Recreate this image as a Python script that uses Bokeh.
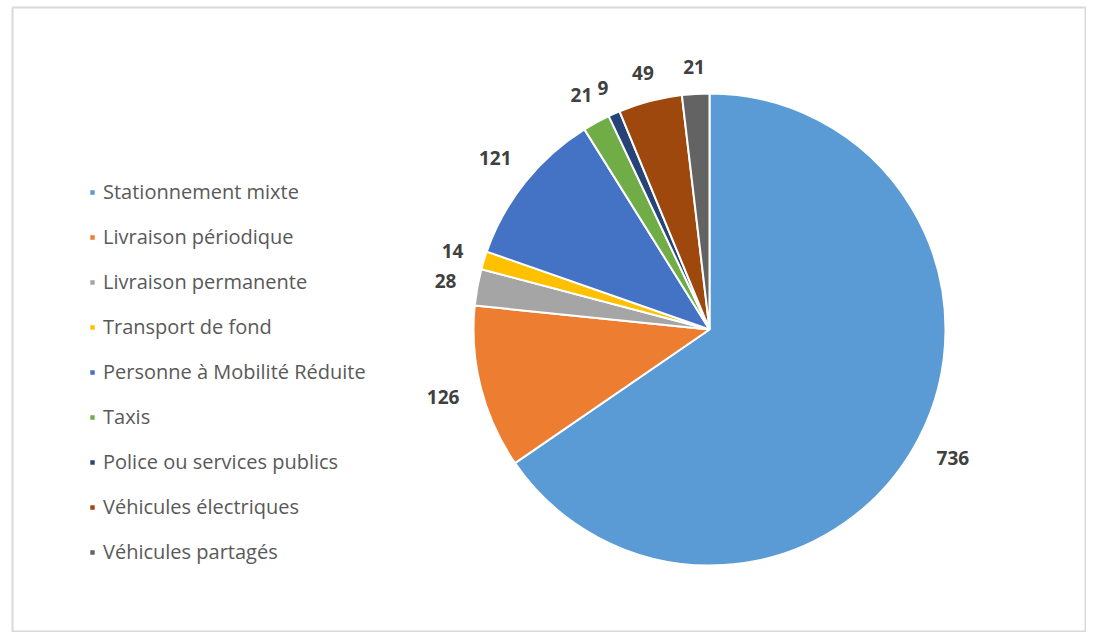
import math
from bokeh.plotting import figure
from bokeh.models import Range1d, Legend, LegendItem
from bokeh.core.properties import value
from bokeh.embed import file_html
from bokeh.resources import INLINE

categories = [
    "Stationnement mixte",
    "Livraison périodique",
    "Livraison permanente",
    "Transport de fond",
    "Personne à Mobilité Réduite",
    "Taxis",
    "Police ou services publics",
    "Véhicules électriques",
    "Véhicules partagés",
]
values = [736, 126, 28, 14, 121, 21, 9, 49, 21]
colors = ["#5B9BD5", "#ED7D31", "#A5A5A5", "#FFC000", "#4472C4",
          "#70AD47", "#264478", "#9E480E", "#636363"]

W, H = 1086, 632
BL, BT = 12, 7
FW, FH = W - BL, H - BT
R_PX = 236.0
CX, CY = 697.0, 322.0  # pie centre in frame pixels (from top-left)

p = figure(width=W, height=H, output_backend="svg", toolbar_location=None,
           x_range=Range1d(-CX / R_PX, (FW - CX) / R_PX),
           y_range=Range1d(-(FH - CY) / R_PX, CY / R_PX),
           min_border_left=BL, min_border_right=0, min_border_top=BT, min_border_bottom=0)
p.axis.visible = False
p.grid.visible = False
p.outline_line_color = "#d9d9d9"
p.outline_line_width = 2
p.background_fill_color = "white"
p.border_fill_color = "white"

total = float(sum(values))
cum = 0.0
items = []
lx, ly, lt = [], [], []
px = 1.0 / R_PX
for cat, v, c in zip(categories, values, colors):
    a0 = cum / total * 2 * math.pi
    a1 = (cum + v) / total * 2 * math.pi
    cum += v
    r = p.wedge(x=0, y=0, radius=1.0,
                start_angle=math.pi / 2 - a1, end_angle=math.pi / 2 - a0,
                direction="anticlock", fill_color=c, line_color="white", line_width=2)
    items.append(LegendItem(label=cat, renderers=[r]))
    mid = math.pi / 2 - (a0 + a1) / 2
    dx, dy = math.cos(mid), math.sin(mid)
    txt = str(v)
    hw = (len(txt) * 13.0 / 2) * px
    hh = 8.0 * px
    d = 1.0 + 18 * px + abs(dx) * hw + abs(dy) * hh
    lx.append(d * dx)
    ly.append(d * dy)
    lt.append(txt)

p.text(x=lx, y=ly, text=lt, text_align="center", text_baseline="middle",
       text_font=value("Open Sans"), text_font_style="bold", text_font_size="19px",
       text_color="#404040")

legend = Legend(items=items, location=(76, 67), orientation="vertical",
                glyph_width=8, glyph_height=8, label_standoff=7,
                spacing=18, padding=0, margin=0,
                label_text_font="Open Sans", label_text_font_size="20px",
                label_text_color="#595959",
                border_line_color=None, background_fill_alpha=0)
p.add_layout(legend)

open("out.html", "w").write(file_html(p, INLINE))
